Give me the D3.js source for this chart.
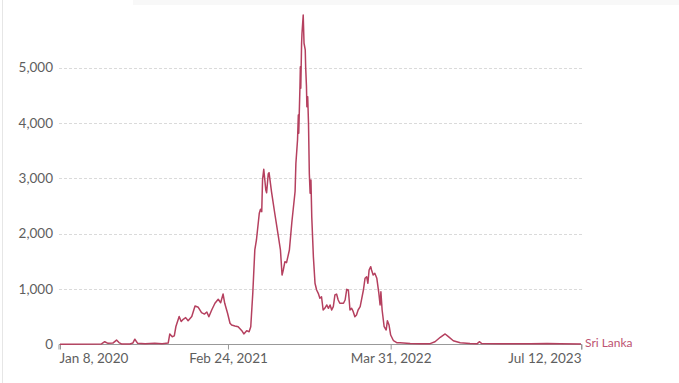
<!DOCTYPE html>
<html>
<head>
<meta charset="utf-8">
<script src="https://cdn.jsdelivr.net/npm/d3@7"></script>
<style>
  html, body { margin: 0; padding: 0; background: #fff; }
  svg { display: block; font-family: Lato, "Open Sans", sans-serif; }
</style>
</head>
<body>
<svg id="chart" width="679" height="383"></svg>
<script>
const seriesName = "Sri Lanka";
const dates = [
  "2020-01-08","2020-04-19","2020-04-27","2020-05-05","2020-05-17","2020-05-26","2020-06-01","2020-06-07",
  "2020-06-28","2020-07-05","2020-07-10","2020-07-17","2020-08-04","2020-08-28","2020-09-15","2020-09-30",
  "2020-10-04","2020-10-10","2020-10-15","2020-10-19","2020-10-27","2020-11-01","2020-11-06","2020-11-12",
  "2020-11-18","2020-11-27","2020-12-05","2020-12-13","2020-12-21","2020-12-28","2021-01-03","2021-01-08",
  "2021-01-15","2021-01-23","2021-01-31","2021-02-06","2021-02-12","2021-02-16","2021-02-23","2021-03-01",
  "2021-03-05","2021-03-13","2021-03-21","2021-03-30","2021-04-04","2021-04-11","2021-04-17","2021-04-21",
  "2021-04-26","2021-05-01","2021-05-05","2021-05-12","2021-05-15","2021-05-18","2021-05-20","2021-05-23",
  "2021-05-28","2021-05-30","2021-06-03","2021-06-05","2021-06-11","2021-06-19","2021-06-28","2021-07-03",
  "2021-07-07","2021-07-10","2021-07-14","2021-07-18","2021-07-25","2021-07-31","2021-08-08","2021-08-10",
  "2021-08-14","2021-08-16","2021-08-17","2021-08-20","2021-08-21","2021-08-22","2021-08-24","2021-08-25",
  "2021-08-28","2021-08-30","2021-09-02","2021-09-03","2021-09-05","2021-09-06","2021-09-08","2021-09-10",
  "2021-09-12","2021-09-14","2021-09-16","2021-09-18","2021-09-22","2021-09-26","2021-09-30","2021-10-04",
  "2021-10-08","2021-10-12","2021-10-16","2021-10-20","2021-10-25","2021-10-29","2021-11-02","2021-11-06",
  "2021-11-10","2021-11-14","2021-11-18","2021-11-22","2021-11-26","2021-12-05","2021-12-09","2021-12-13",
  "2021-12-17","2021-12-21","2021-12-25","2021-12-29","2022-01-02","2022-01-06","2022-01-10","2022-01-15",
  "2022-01-19","2022-01-23","2022-01-27","2022-01-31","2022-02-03","2022-02-06","2022-02-10","2022-02-12",
  "2022-02-16","2022-02-20","2022-02-25","2022-03-02","2022-03-05","2022-03-07","2022-03-10","2022-03-15",
  "2022-03-20","2022-03-23","2022-03-27","2022-03-31","2022-04-07","2022-04-15","2022-04-23","2022-05-18",
  "2022-06-11","2022-07-06","2022-07-18","2022-07-31","2022-08-12","2022-08-20","2022-09-01","2022-09-18",
  "2022-10-12","2022-10-30","2022-11-04","2022-11-10","2022-12-25","2023-03-09","2023-04-20","2023-05-22",
  "2023-07-12"
];
const values = [
  0,5,45,15,20,75,30,5,
  5,20,90,15,10,15,10,20,
  185,135,150,320,500,410,450,480,
  425,500,690,667,570,545,582,497,
  618,740,812,750,907,740,560,378,
  347,330,316,245,185,245,226,316,
  920,1703,1884,2367,2440,2396,2969,3162,
  2788,2739,3077,3100,2757,2367,1944,1703,
  1251,1341,1492,1474,1703,2200,2760,3271,
  3692,4144,3813,4656,5017,4626,5440,5621,
  5952,5440,5319,5017,4656,4294,4475,3994,
  3090,2729,2969,2305,1582,1101,980,920,
  830,858,618,649,709,649,709,618,
  678,890,907,799,740,740,799,992,
  980,618,649,588,497,528,618,678,
  830,980,1191,1220,1101,1341,1401,1341,
  1251,1282,1191,920,709,949,618,316,
  257,425,347,166,63,27,25,12,
  8,10,45,125,185,136,63,27,
  12,10,45,12,8,8,14,8,
  4
];
const yTicks = [0, 1000, 2000, 3000, 4000, 5000];
const xTickDates = ["2020-01-08", "2021-02-24", "2022-03-31", "2023-07-12"];
const xTickLabels = ["Jan 8, 2020", "Feb 24, 2021", "Mar 31, 2022", "Jul 12, 2023"];

const parse = d3.timeParse("%Y-%m-%d");
const data = dates.map((d, i) => ({ date: parse(d), value: values[i] }));

const svg = d3.select("#chart");
const W = 679, H = 383;
const plotLeft = 60, plotRight = 581, plotBottom = 344.2;

// page frame decorations
svg.append("rect").attr("x", 133).attr("y", 0).attr("width", W - 133).attr("height", 5).attr("fill", "#f8f8f8");
svg.append("line").attr("x1", 2.5).attr("x2", 2.5).attr("y1", 0).attr("y2", H).attr("stroke", "#e6e6e6").attr("stroke-width", 1);

const x = d3.scaleTime()
  .domain([parse(xTickDates[0]), parse(xTickDates[xTickDates.length - 1])])
  .range([plotLeft, plotRight]);
const y = d3.scaleLinear().domain([0, 5000]).range([plotBottom, plotBottom - 5000 * 0.05532]);

// gridlines
const grid = svg.append("g");
grid.selectAll("line").data(yTicks.filter(t => t > 0)).join("line")
  .attr("x1", plotLeft - 1).attr("x2", plotRight + 1)
  .attr("y1", d => Math.round(y(d)) + 0.5).attr("y2", d => Math.round(y(d)) + 0.5)
  .attr("stroke", "#dadada").attr("stroke-width", 1).attr("stroke-dasharray", "3,2");

// y axis labels
const yAxis = d3.axisLeft(y).tickValues(yTicks).tickSize(0).tickPadding(6).tickFormat(d3.format(","));
const yg = svg.append("g").attr("transform", `translate(${plotLeft - 1},0)`).call(yAxis);
yg.select(".domain").remove();
yg.selectAll("text").attr("fill", "#5e5e5e").attr("font-size", 13.5).attr("font-family", "Lato, sans-serif");

// x axis
const xAxis = d3.axisBottom(x)
  .tickValues(xTickDates.map(parse))
  .tickSize(5).tickPadding(4)
  .tickFormat((d, i) => xTickLabels[i]);
const xg = svg.append("g").attr("transform", `translate(0,${Math.round(plotBottom) + 0.5})`).call(xAxis);
xg.select(".domain").attr("stroke", "#999").attr("d", `M${plotLeft - 1},5V0H${plotRight + 1}V5`);
xg.selectAll(".tick line").attr("stroke", "#999");
xg.selectAll("text").attr("fill", "#5e5e5e").attr("font-size", 13.5).attr("font-family", "Lato, sans-serif");
xg.selectAll(".tick text").attr("text-anchor", (d, i) => i === 0 ? "start" : (i === xTickDates.length - 1 ? "end" : "middle"))
  .attr("dx", (d, i) => i === 0 ? -1 : 0);

// line
const line = d3.line().x(d => x(d.date)).y(d => y(d.value)).curve(d3.curveLinear);
svg.append("path").datum(data)
  .attr("d", line)
  .attr("fill", "none")
  .attr("stroke", "#b5405f")
  .attr("stroke-width", 1.5)
  .attr("stroke-linejoin", "round");

// series label
const last = data[data.length - 1];
svg.append("text")
  .attr("x", x(last.date) + 4)
  .attr("y", y(last.value) - 1)
  .attr("dy", "0.35em")
  .attr("fill", "#bd5372")
  .attr("font-size", 12)
  .attr("font-family", "Lato, sans-serif")
  .text(seriesName);
</script>
</body>
</html>
